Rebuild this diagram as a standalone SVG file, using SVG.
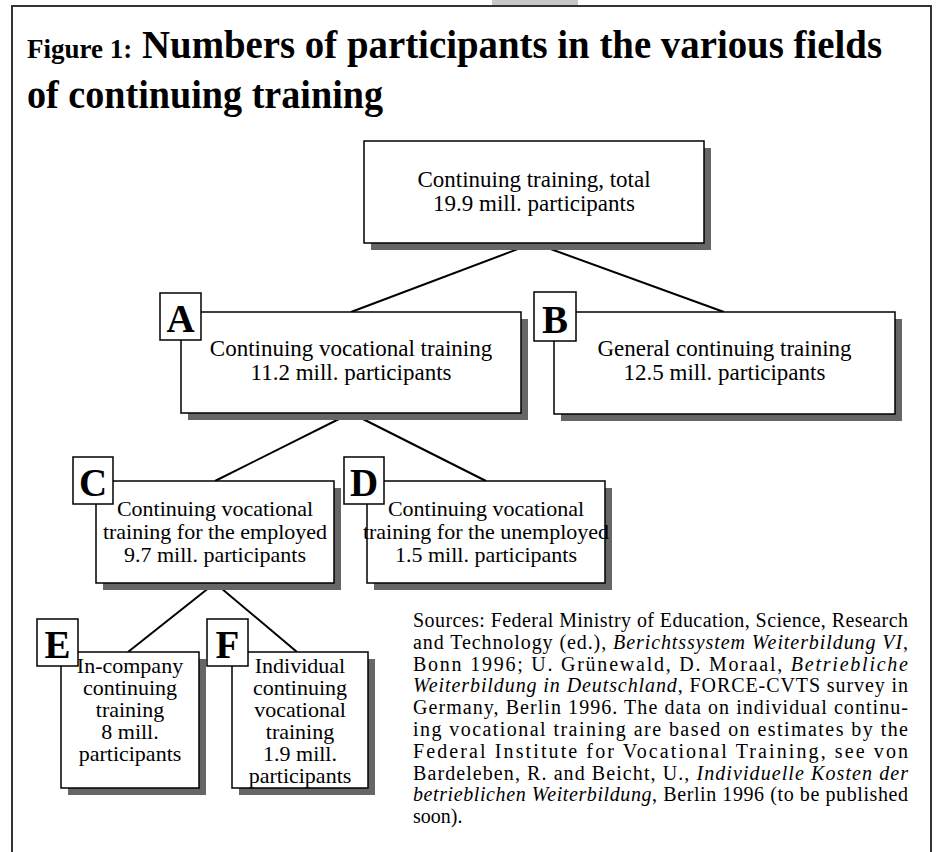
<svg xmlns="http://www.w3.org/2000/svg" width="936" height="852" viewBox="0 0 936 852">
<style>
.frame{fill:none;stroke:#333;stroke-width:2}
.box{fill:#fff;stroke:#000;stroke-width:1.5}
.shadow{fill:#666}
.lbl{fill:#fff;stroke:#000;stroke-width:1.5}
.lt{font-family:"Liberation Serif",serif;font-weight:bold;font-size:39px;text-anchor:middle;fill:#000}
.t{font-family:"Liberation Serif",serif;font-size:23px;text-anchor:middle;fill:#000}
.t2{font-family:"Liberation Serif",serif;font-size:22px;text-anchor:middle;fill:#000}
.src{font-family:"Liberation Serif",serif;font-size:20px;fill:#000}
.it{font-style:italic}
.title{font-family:"Liberation Serif",serif;font-weight:bold;fill:#000}
.conn line{stroke:#000;stroke-width:2}
</style>
<rect x="0" y="0" width="936" height="852" fill="#fff"/>
<rect x="492" y="0" width="86" height="6" fill="#c8c8c8"/>
<path class="frame" d="M12,852 V6 H931 V852"/>
<g id="title">
<text class="title" x="27" y="58" font-size="27">Figure 1:</text>
<text class="title" x="142" y="58" font-size="41" textLength="740" lengthAdjust="spacingAndGlyphs">Numbers of participants in the various fields</text>
<text class="title" x="27" y="108" font-size="41" textLength="356" lengthAdjust="spacingAndGlyphs">of continuing training</text>
</g>
<g id="connectors" class="conn">
<line x1="534" y1="243" x2="351" y2="312"/>
<line x1="534" y1="243" x2="724" y2="312"/>
<line x1="351" y1="413" x2="215" y2="481"/>
<line x1="351" y1="413" x2="486" y2="481"/>
<line x1="215" y1="583" x2="128" y2="652"/>
<line x1="215" y1="583" x2="297" y2="652"/>
</g>
<g id="total">
<rect class="shadow" x="371" y="148" width="340" height="102"/>
<rect class="box" x="364" y="141" width="340" height="102"/>
<text class="t" x="534" y="187">Continuing training, total</text>
<text class="t" x="534" y="211">19.9 mill. participants</text>
</g>
<g id="A">
<rect class="shadow" x="188" y="319" width="340" height="101"/>
<rect class="box" x="181" y="312" width="340" height="101"/>
<text class="t" x="351" y="356">Continuing vocational training</text>
<text class="t" x="351" y="380">11.2 mill. participants</text>
<rect class="lbl" x="160" y="293" width="41" height="47"/>
<text class="lt" x="180.5" y="332">A</text>
</g>
<g id="B">
<rect class="shadow" x="561" y="319" width="341" height="102"/>
<rect class="box" x="554" y="312" width="341" height="102"/>
<text class="t" x="724.5" y="356">General continuing training</text>
<text class="t" x="724.5" y="380">12.5 mill. participants</text>
<rect class="lbl" x="534" y="292" width="42" height="49"/>
<text class="lt" x="555" y="333">B</text>
</g>
<g id="C">
<rect class="shadow" x="103" y="488" width="238" height="102"/>
<rect class="box" x="96" y="481" width="238" height="102"/>
<text class="t2" x="215" y="516">Continuing vocational</text>
<text class="t2" x="215" y="539">training for the employed</text>
<text class="t2" x="215" y="562">9.7 mill. participants</text>
<rect class="lbl" x="73" y="457" width="40" height="47"/>
<text class="lt" x="93" y="496">C</text>
</g>
<g id="D">
<rect class="shadow" x="374" y="488" width="238" height="102"/>
<rect class="box" x="367" y="481" width="238" height="102"/>
<text class="t2" x="486" y="516">Continuing vocational</text>
<text class="t2" x="486" y="539">training for the unemployed</text>
<text class="t2" x="486" y="562">1.5 mill. participants</text>
<rect class="lbl" x="344" y="457" width="40" height="47"/>
<text class="lt" x="364" y="496">D</text>
</g>
<g id="E">
<rect class="shadow" x="68" y="659" width="138" height="136"/>
<rect class="box" x="61" y="652" width="138" height="136"/>
<text class="t2" x="130" y="673">In-company</text>
<text class="t2" x="130" y="695">continuing</text>
<text class="t2" x="130" y="717">training</text>
<text class="t2" x="130" y="739">8 mill.</text>
<text class="t2" x="130" y="761">participants</text>
<rect class="lbl" x="37" y="619" width="41" height="47"/>
<text class="lt" x="57.5" y="658">E</text>
</g>
<g id="F">
<rect class="shadow" x="239" y="659" width="136" height="136"/>
<rect class="box" x="232" y="652" width="136" height="136"/>
<text class="t2" x="300" y="673">Individual</text>
<text class="t2" x="300" y="695">continuing</text>
<text class="t2" x="300" y="717">vocational</text>
<text class="t2" x="300" y="739">training</text>
<text class="t2" x="300" y="761">1.9 mill.</text>
<text class="t2" x="300" y="783">participants</text>
<rect class="lbl" x="207" y="619" width="41" height="47"/>
<text class="lt" x="227.5" y="658">F</text>
</g>
<g id="sources">
<text class="src" x="413" y="627" textLength="495" lengthAdjust="spacing">Sources: Federal Ministry of Education, Science, Research</text>
<text class="src" x="413" y="649" textLength="495" lengthAdjust="spacing">and Technology (ed.), <tspan class="it">Berichtssystem Weiterbildung VI</tspan>,</text>
<text class="src" x="413" y="671" textLength="495" lengthAdjust="spacing">Bonn 1996; U. Grünewald, D. Moraal, <tspan class="it">Betriebliche</tspan></text>
<text class="src" x="413" y="692" textLength="495" lengthAdjust="spacing"><tspan class="it">Weiterbildung in Deutschland</tspan>, FORCE-CVTS survey in</text>
<text class="src" x="413" y="714" textLength="495" lengthAdjust="spacing">Germany, Berlin 1996. The data on individual continu-</text>
<text class="src" x="413" y="736" textLength="495" lengthAdjust="spacing">ing vocational training are based on estimates by the</text>
<text class="src" x="413" y="758" textLength="495" lengthAdjust="spacing">Federal Institute for Vocational Training, see von</text>
<text class="src" x="413" y="780" textLength="495" lengthAdjust="spacing">Bardeleben, R. and Beicht, U., <tspan class="it">Individuelle Kosten der</tspan></text>
<text class="src" x="413" y="801" textLength="495" lengthAdjust="spacing"><tspan class="it">betrieblichen Weiterbildung</tspan>, Berlin 1996 (to be published</text>
<text class="src" x="413" y="823">soon).</text>
</g>
</svg>
